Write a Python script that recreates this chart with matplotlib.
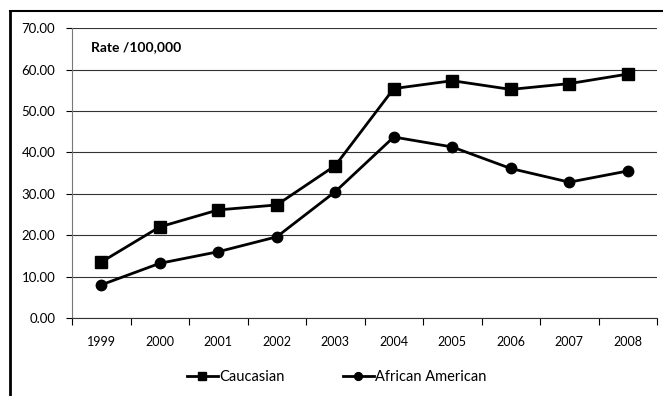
import matplotlib
matplotlib.use('agg')
import matplotlib.pyplot as plt
from matplotlib.lines import Line2D

years = ['1999', '2000', '2001', '2002', '2003', '2004', '2005', '2006', '2007', '2008']
caucasian = [13.5, 22.0, 26.1, 27.3, 36.8, 55.4, 57.3, 55.2, 56.6, 58.9]
african_american = [8.0, 13.2, 16.0, 19.6, 30.5, 43.7, 41.3, 36.1, 32.8, 35.5]
y_ticks = [0, 10, 20, 30, 40, 50, 60, 70]

plt.rcParams['font.family'] = ['Lato', 'DejaVu Sans']

fig = plt.figure(figsize=(6.63, 3.96), dpi=100)
ax = fig.add_axes([0.1086, 0.197, 0.8824, 0.732])

x = list(range(len(years)))
ax.plot(x, caucasian, color='black', lw=2.0, marker='s', ms=8.5, label='Caucasian')
ax.plot(x, african_american, color='black', lw=2.0, marker='o', ms=7.5, label='African American')

ax.set_xlim(-0.5, len(years) - 0.5)
ax.set_ylim(0, 70)
ax.set_yticks(y_ticks)
ax.set_yticklabels([f'{v:.2f}' for v in y_ticks], fontsize=9.5)
ax.set_xticks(x)
ax.set_xticklabels(years, fontsize=9)
# category labels sit between tick marks, like a spreadsheet chart
ax.set_xticks([i - 0.5 for i in range(len(years) + 1)], minor=True)
ax.tick_params(axis='x', which='major', length=0, pad=13)
ax.tick_params(axis='x', which='minor', length=5, width=0.8, direction='out')
ax.tick_params(axis='y', length=4, width=0.8, pad=8)

ax.grid(axis='y', color='#333333', lw=0.8)
ax.set_axisbelow(True)
for side in ['top', 'right']:
    ax.spines[side].set_visible(False)
ax.spines['left'].set_color('#777777')
ax.spines['bottom'].set_color('#333333')

ax.text(0.032, 0.934, 'Rate /100,000', transform=ax.transAxes, fontsize=10,
        fontweight='bold', va='center')

fig.legend(loc='center', bbox_to_anchor=(0.508, 0.048), ncol=2, frameon=False,
           fontsize=10.5, handlelength=2.1, handletextpad=0.1, columnspacing=4.0,
           markerscale=0.75)

# outer chart frame (left and top edges)
fig.add_artist(Line2D([0.015, 0.015], [0.0, 0.972], color='black', lw=2.0,
                      transform=fig.transFigure))
fig.add_artist(Line2D([0.015, 1.0], [0.972, 0.972], color='black', lw=1.5,
                      transform=fig.transFigure))

fig.savefig('out.png', dpi=100)
plt.close(fig)
